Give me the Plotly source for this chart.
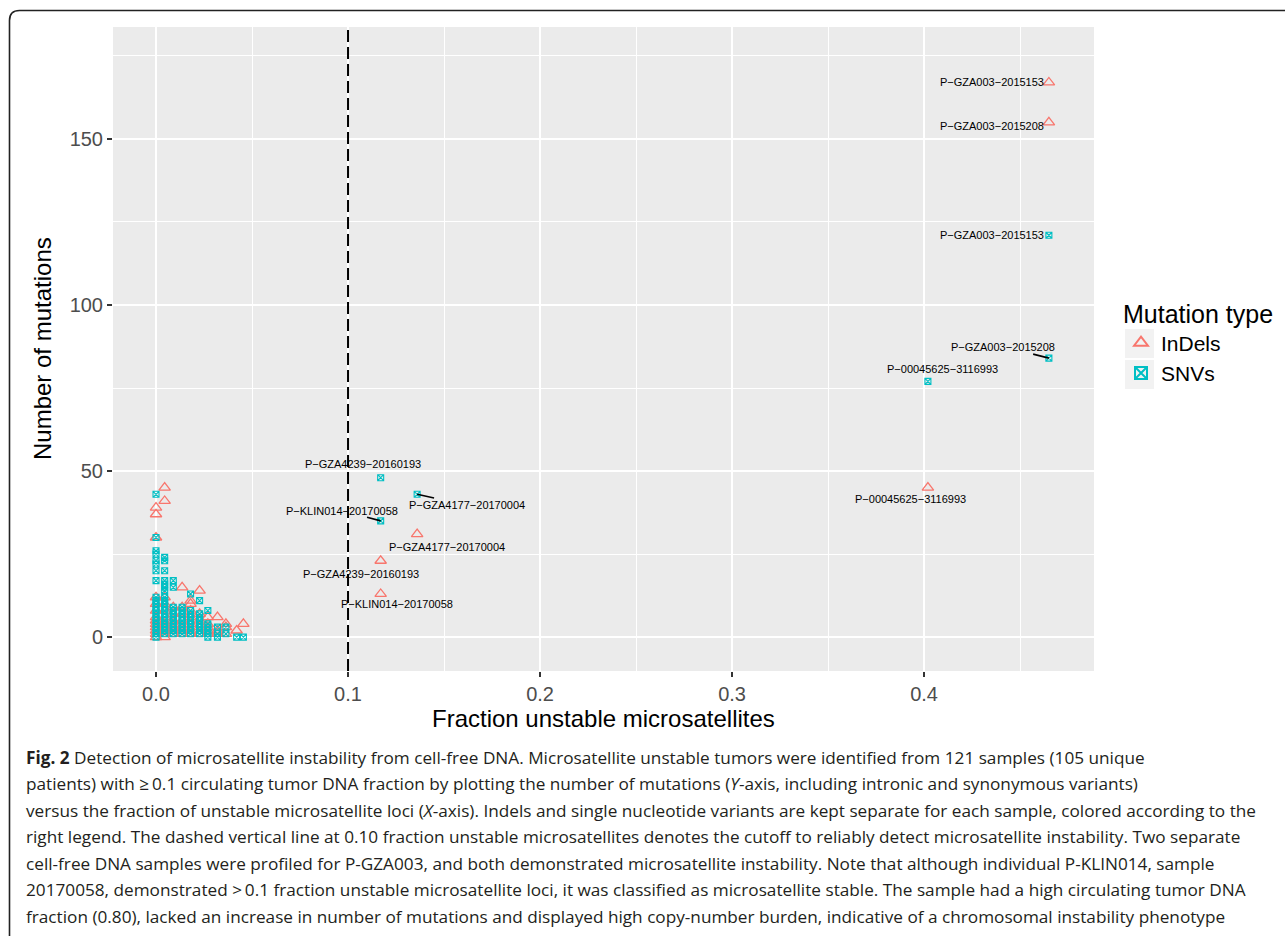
import plotly.graph_objects as go

# ---------------- data ----------------
INDEL_X = [0.465, 0.465, 0.402, 0.136, 0.117, 0.117,
           0, 0, 0, 0, 0, 0, 0, 0, 0, 0, 0, 0, 0,
           0.0045, 0.0045, 0.0045, 0.0045, 0.0045, 0.0045, 0.0045, 0.0045, 0.0045, 0.0045, 0.0045,
           0.009, 0.009, 0.009, 0.009, 0.009, 0.009, 0.009,
           0.0136, 0.0136, 0.0136, 0.0136, 0.0136, 0.0136, 0.0136,
           0.018, 0.018, 0.018, 0.018, 0.018, 0.018, 0.018,
           0.0227, 0.0227, 0.0227, 0.0227, 0.0227,
           0.027, 0.027, 0.027, 0.027, 0.027,
           0.032, 0.032, 0.032,
           0.0364, 0.0364, 0.0364,
           0.042, 0.0455]
INDEL_Y = [167, 155, 45, 31, 23, 13,
           39, 37, 30, 12, 10, 8, 6, 5, 4, 3, 2, 1, 0,
           45, 41, 12, 10, 8, 6, 4, 3, 2, 1, 0,
           9, 7, 5, 4, 3, 2, 1,
           15, 9, 7, 5, 3, 2, 1,
           11, 10, 8, 6, 4, 2, 1,
           14, 7, 5, 3, 1,
           6, 4, 3, 2, 1,
           6, 2, 1,
           4, 3, 1,
           2, 4]

SNV_X = [0.465, 0.465, 0.402, 0.117, 0.136, 0.117,
         0, 0, 0, 0, 0, 0, 0, 0, 0, 0, 0, 0, 0, 0, 0, 0, 0, 0, 0, 0, 0,
         0.0045, 0.0045, 0.0045, 0.0045, 0.0045, 0.0045, 0.0045, 0.0045, 0.0045, 0.0045,
         0.0045, 0.0045, 0.0045, 0.0045, 0.0045, 0.0045, 0.0045, 0.0045, 0.0045,
         0.009, 0.009, 0.009, 0.009, 0.009, 0.009, 0.009, 0.009, 0.009, 0.009, 0.009,
         0.0136, 0.0136, 0.0136, 0.0136, 0.0136, 0.0136, 0.0136, 0.0136, 0.0136,
         0.018, 0.018, 0.018, 0.018, 0.018, 0.018, 0.018, 0.018, 0.018,
         0.0227, 0.0227, 0.0227, 0.0227, 0.0227, 0.0227, 0.0227, 0.0227,
         0.027, 0.027, 0.027, 0.027, 0.027, 0.027,
         0.032, 0.032, 0.032,
         0.0364, 0.0364,
         0.042, 0.0455]
SNV_Y = [121, 84, 77, 48, 43, 35,
         43, 30, 26, 25, 23, 22, 20, 17, 12, 11, 10, 9, 8, 7, 6, 5, 4, 3, 2, 1, 0,
         24, 23, 20, 17, 16, 15, 14, 12, 11, 10,
         9, 8, 7, 6, 5, 4, 3, 2, 1,
         17, 15, 9, 8, 7, 6, 5, 4, 3, 2, 1,
         9, 8, 7, 6, 5, 4, 3, 2, 1,
         13, 8, 7, 6, 5, 4, 3, 2, 1,
         11, 7, 6, 5, 4, 3, 2, 1,
         8, 4, 3, 2, 1, 0,
         3, 1, 0,
         3, 1,
         0, 0]

LABEL_TEXT = ["P\u2212GZA003\u22122015153", "P\u2212GZA003\u22122015208",
              "P\u2212GZA003\u22122015153", "P\u2212GZA003\u22122015208",
              "P\u221200045625\u22123116993", "P\u221200045625\u22123116993",
              "P\u2212GZA4239\u221220160193", "P\u2212KLIN014\u221220170058",
              "P\u2212GZA4177\u221220170004", "P\u2212GZA4177\u221220170004",
              "P\u2212GZA4239\u221220160193", "P\u2212KLIN014\u221220170058"]
LABEL_X = [0.4354, 0.4354, 0.4354, 0.4409, 0.4094, 0.3930,
           0.1076, 0.0969, 0.1617, 0.1513, 0.1065, 0.1253]
LABEL_Y = [167.2, 153.9, 121.1, 87.3, 80.7, 41.6,
           52.1, 38.0, 39.8, 27.1, 19.0, 9.9]

# repel segments: (label end -> point)
SEG_X0 = [0.4568, 0.1099, 0.1448]
SEG_Y0 = [85.2, 36.1, 41.9]
SEG_X1 = [0.465, 0.117, 0.136]
SEG_Y1 = [84, 35, 43]

CUTOFF = 0.1
X_TICKS = [0.0, 0.1, 0.2, 0.3, 0.4]
X_TICK_TEXT = ["0.0", "0.1", "0.2", "0.3", "0.4"]
Y_TICKS = [0, 50, 100, 150]

CAPTION_LINES = [
    "<b>Fig. 2</b> Detection of microsatellite instability from cell-free DNA. Microsatellite unstable tumors were identified from 121 samples (105 unique",
    "patients) with \u2265\u20090.1 circulating tumor DNA fraction by plotting the number of mutations (<i>Y</i>-axis, including intronic and synonymous variants)",
    "versus the fraction of unstable microsatellite loci (<i>X</i>-axis). Indels and single nucleotide variants are kept separate for each sample, colored according to the",
    "right legend. The dashed vertical line at 0.10 fraction unstable microsatellites denotes the cutoff to reliably detect microsatellite instability. Two separate",
    "cell-free DNA samples were profiled for P-GZA003, and both demonstrated microsatellite instability. Note that although individual P-KLIN014, sample",
    "20170058, demonstrated >\u20090.1 fraction unstable microsatellite loci, it was classified as microsatellite stable. The sample had a high circulating tumor DNA",
    "fraction (0.80), lacked an increase in number of mutations and displayed high copy-number burden, indicative of a chromosomal instability phenotype",
]

# ---------------- layout geometry (pixels) ----------------
W, H = 1285, 936
PL, PT, PR, PB = 113, 27, 1094, 671
PW, PH = PR - PL, PB - PT


def px(x):
    return (x - PL) / PW


def py(y):
    return (PB - y) / PH


RED = "#F8766D"
CYAN = "#00BFC4"
FONT = "Liberation Sans, Arial, sans-serif"

fig = go.Figure()

fig.add_trace(go.Scatter(
    x=INDEL_X, y=INDEL_Y, mode="markers", name="InDels",
    marker=dict(symbol="triangle-up-open", size=10, color=RED, line=dict(width=1.3, color=RED)),
))
fig.add_trace(go.Scatter(
    x=SNV_X, y=SNV_Y, mode="markers", name="SNVs",
    marker=dict(symbol="square-x-open", size=6, color=CYAN, line=dict(width=1.1, color=CYAN)),
))

for i in range(len(SEG_X0)):
    fig.add_trace(go.Scatter(
        x=[SEG_X0[i], SEG_X1[i]], y=[SEG_Y0[i], SEG_Y1[i]], mode="lines",
        line=dict(color="black", width=1.6), showlegend=False, hoverinfo="skip",
    ))

for t, lx, ly in zip(LABEL_TEXT, LABEL_X, LABEL_Y):
    fig.add_annotation(x=lx, y=ly, xref="x", yref="y", text=t, showarrow=False,
                       font=dict(family=FONT, size=11, color="black"),
                       xanchor="center", yanchor="middle")

fig.add_vline(x=CUTOFF, line=dict(color="black", width=2, dash="12px,5px"))

# axis titles
fig.add_annotation(x=px((PL + PR) / 2), y=py(718), xref="paper", yref="paper",
                   text="Fraction unstable microsatellites", showarrow=False,
                   font=dict(family=FONT, size=24, color="black"), xanchor="center", yanchor="middle")
fig.add_annotation(x=px(42), y=py((PT + PB) / 2), xref="paper", yref="paper",
                   text="Number of mutations", showarrow=False, textangle=-90,
                   font=dict(family=FONT, size=24, color="black"), xanchor="center", yanchor="middle")

# caption
CAP_Y = [757, 783.5, 810, 836.5, 863, 889.5, 916]
for line, cy in zip(CAPTION_LINES, CAP_Y):
    fig.add_annotation(x=px(24), y=py(cy), xref="paper", yref="paper", text=line,
                       showarrow=False, xanchor="left", yanchor="middle", align="left",
                       font=dict(family="Open Sans, sans-serif", size=17.2, color="#231F20"))

# figure border (rounded top-left corner, continues to page edges)
bx, by = 9.5, 10.5
path = (f"M {px(bx)} {py(H)} L {px(bx)} {py(by + 10)} "
        f"Q {px(bx)} {py(by)} {px(bx + 10)} {py(by)} L {px(W)} {py(by)}")
fig.add_shape(type="path", path=path, xref="paper", yref="paper",
              line=dict(color="#222222", width=1.6))

# legend key backgrounds
for top in (329, 360):
    fig.add_shape(type="rect", xref="paper", yref="paper",
                  x0=px(1125), x1=px(1154), y0=py(top), y1=py(top + 29),
                  fillcolor="#F2F2F2", line=dict(width=0), layer="above")

fig.update_layout(
    width=W, height=H,
    margin=dict(l=PL, r=W - PR, t=PT, b=H - PB, pad=0, autoexpand=False),
    paper_bgcolor="white", plot_bgcolor="#EBEBEB",
    font=dict(family=FONT, color="black"),
    showlegend=True,
    legend=dict(
        title=dict(text="Mutation type", font=dict(family=FONT, size=25, color="black")),
        font=dict(family=FONT, size=21, color="black"),
        x=px(1121), y=py(290), xanchor="left", yanchor="top",
        bgcolor="rgba(0,0,0,0)", itemsizing="constant",
    ),
    xaxis=dict(
        range=[-0.0224, 0.4885], tickvals=X_TICKS, ticktext=X_TICK_TEXT,
        showgrid=True, gridcolor="white", gridwidth=1.6, zeroline=False,
        minor=dict(dtick=0.05, tick0=0.05, showgrid=True, gridcolor="white", gridwidth=0.8),
        ticks="outside", ticklen=5, tickwidth=1.5, tickcolor="#333333",
        tickfont=dict(family=FONT, size=20, color="#4D4D4D"), showline=False,
    ),
    yaxis=dict(
        range=[-10.2, 183.7], tickvals=Y_TICKS,
        showgrid=True, gridcolor="white", gridwidth=1.6, zeroline=False,
        minor=dict(dtick=25, tick0=25, showgrid=True, gridcolor="white", gridwidth=0.8),
        ticks="outside", ticklen=5, tickwidth=1.5, tickcolor="#333333",
        tickfont=dict(family=FONT, size=20, color="#4D4D4D"), showline=False,
    ),
)

fig.write_html("out.html")
